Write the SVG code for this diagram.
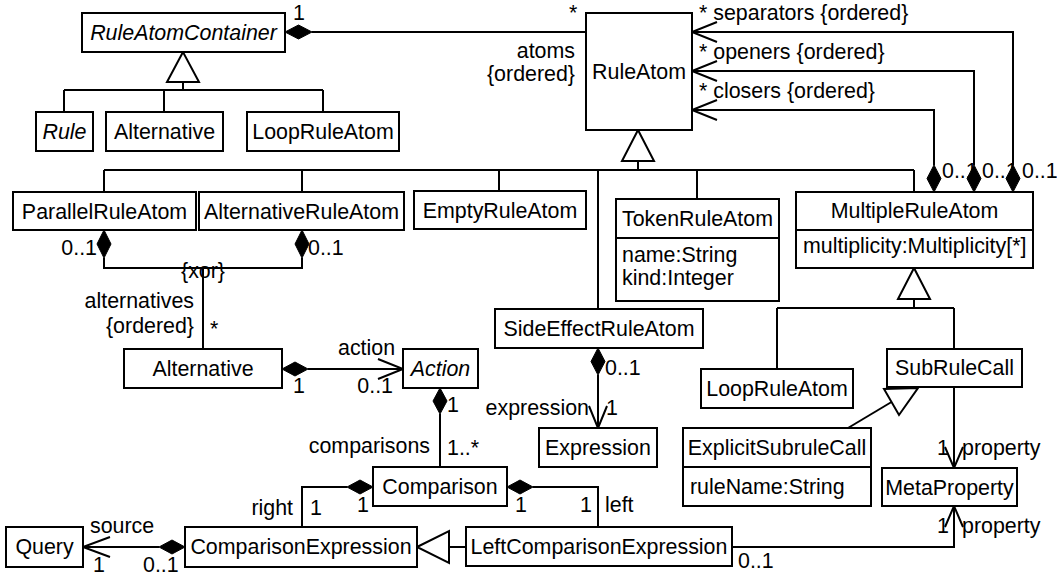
<svg xmlns="http://www.w3.org/2000/svg" width="1057" height="575" viewBox="0 0 1057 575">
<style>
.box{fill:#fff;stroke:#000;stroke-width:2}
.ln{fill:none;stroke:#000;stroke-width:2}
.dia{fill:#000;stroke:#000;stroke-width:1}
.tri{fill:#fff;stroke:#000;stroke-width:2}
text{font-family:"Liberation Sans",Arial,sans-serif;font-size:21.4px;fill:#000}
.c{text-anchor:middle}
.e{text-anchor:end}
.i{font-style:italic}
</style>
<rect width="1057" height="575" fill="#fff"/>
<g id="connectors">
  <!-- RuleAtomContainer atoms -->
  <path class="ln" d="M312,32 H586"/>
  <polygon class="dia" points="285,32 298.5,25 312,32 298.5,39"/>
  <text x="293" y="20">1</text>
  <text x="569" y="20">*</text>
  <text class="e" x="575" y="58">atoms</text>
  <text class="e" x="575" y="81">{ordered}</text>
  <!-- generalization to RuleAtomContainer -->
  <polygon class="tri" points="183,52 167,82 199,82"/>
  <path class="ln" d="M183,82 V90 M64,90 H323 M64,90 V112 M164,90 V112 M323,90 V112"/>
  <!-- generalization to RuleAtom -->
  <polygon class="tri" points="638,130 622,161 654,161"/>
  <path class="ln" d="M638,161 V170 M104,170 H914 M104,170 V192 M302,170 V192 M499,170 V191 M598,170 V309 M697,170 V199 M914,170 V192"/>
  <!-- MultipleRuleAtom -> RuleAtom -->
  <path class="ln" d="M934,165 V110 H692 M974,165 V71 H692 M1013,165 V32 H692"/>
  <path class="ln" d="M717,100 L692,110 L717,120 M717,61 L692,71 L717,81 M717,22 L692,32 L717,42"/>
  <text x="699" y="20">* separators {ordered}</text>
  <text x="699" y="59">* openers {ordered}</text>
  <text x="699" y="98">* closers {ordered}</text>
  <text x="942" y="178">0..1</text>
  <text x="982" y="178">0..1</text>
  <text x="1022" y="178">0..1</text>
  <polygon class="dia" points="934,192 927,178.5 934,165 941,178.5"/>
  <polygon class="dia" points="974,192 967,178.5 974,165 981,178.5"/>
  <polygon class="dia" points="1013,192 1006,178.5 1013,165 1020,178.5"/>
  <!-- alternatives xor -->
  <polygon class="dia" points="104,230 111,244 104,258 97,244"/>
  <polygon class="dia" points="302,230 309,244 302,258 295,244"/>
  <path class="ln" d="M104,258 V268 H302 V258 M203,268 V349"/>
  <text class="e" x="97" y="255">0..1</text>
  <text x="308" y="255">0..1</text>
  <text class="c" x="203" y="278">{xor}</text>
  <text class="e" x="194" y="308">alternatives</text>
  <text class="e" x="194" y="333">{ordered}</text>
  <text x="210" y="336">*</text>
  <!-- Alternative -> Action -->
  <polygon class="dia" points="282,369 295,362 308,369 295,376"/>
  <path class="ln" d="M308,369 H403 M378,359 L403,369 L378,379"/>
  <text x="338" y="355">action</text>
  <text x="293" y="393">1</text>
  <text class="e" x="393" y="393">0..1</text>
  <!-- Action -> Comparison -->
  <polygon class="dia" points="440,388 447,401 440,414 433,401"/>
  <path class="ln" d="M440,414 V467"/>
  <text x="447" y="412">1</text>
  <text class="e" x="430" y="453">comparisons</text>
  <text x="447" y="455">1..*</text>
  <!-- SideEffectRuleAtom -> Expression -->
  <polygon class="dia" points="598,348 605,361.5 598,375 591,361.5"/>
  <path class="ln" d="M598,375 V428 M589,406 L598,428 L607,406"/>
  <text x="605" y="375">0..1</text>
  <text class="e" x="589" y="415">expression</text>
  <text x="606" y="415">1</text>
  <!-- generalization to MultipleRuleAtom -->
  <polygon class="tri" points="914,268 898,299 930,299"/>
  <path class="ln" d="M914,299 V308 M777,308 H954 M777,308 V369 M954,308 V349"/>
  <!-- ExplicitSubruleCall -> SubRuleCall -->
  <path class="ln" d="M848,428 L891.5,402"/>
  <polygon class="tri" points="918,388 884,389 899,415"/>
  <!-- SubRuleCall -> MetaProperty -->
  <path class="ln" d="M954,387 V468 M945,447 L954,468 L963,447"/>
  <text x="937" y="455">1</text>
  <text x="962" y="455">property</text>
  <!-- LeftComparisonExpression -> MetaProperty -->
  <path class="ln" d="M732,547 H954 V506 M945,527 L954,506 L963,527"/>
  <text x="937" y="533">1</text>
  <text x="962" y="533">property</text>
  <text x="738" y="568">0..1</text>
  <!-- Comparison right -->
  <polygon class="dia" points="373,487 360,480 347,487 360,494"/>
  <path class="ln" d="M347,487 H302 V527"/>
  <text class="e" x="293" y="515">right</text>
  <text x="310" y="515">1</text>
  <text x="357" y="512">1</text>
  <!-- Comparison left -->
  <polygon class="dia" points="507,487 520,480 533,487 520,494"/>
  <path class="ln" d="M533,487 H598 V527"/>
  <text x="515" y="512">1</text>
  <text x="580" y="512">1</text>
  <text x="605" y="512">left</text>
  <!-- LeftComparisonExpression generalization -->
  <polygon class="tri" points="417,547 449,531 449,563"/>
  <path class="ln" d="M449,547 H466"/>
  <!-- ComparisonExpression -> Query -->
  <polygon class="dia" points="185,547 172,540 159,547 172,554"/>
  <path class="ln" d="M159,547 H83 M110,537 L83,547 L110,557"/>
  <text x="90" y="533">source</text>
  <text x="93" y="572">1</text>
  <text x="143" y="572">0..1</text>
</g>
<g id="RuleAtomContainer"><rect class="box" x="82" y="13" width="203" height="39"/><text class="c i" x="183.5" y="40">RuleAtomContainer</text></g>
<g id="Rule"><rect class="box" x="36" y="112" width="57" height="39"/><text class="c i" x="64.5" y="139">Rule</text></g>
<g id="Alternative1"><rect class="box" x="106" y="112" width="117" height="39"/><text class="c" x="164.5" y="139">Alternative</text></g>
<g id="LoopRuleAtom1"><rect class="box" x="247" y="112" width="152" height="39"/><text class="c" x="323" y="139">LoopRuleAtom</text></g>
<g id="RuleAtom"><rect class="box" x="586" y="13" width="106" height="117"/><text class="c" x="639" y="79">RuleAtom</text></g>
<g id="ParallelRuleAtom"><rect class="box" x="13" y="192" width="183" height="38"/><text class="c" x="104.5" y="219">ParallelRuleAtom</text></g>
<g id="AlternativeRuleAtom"><rect class="box" x="199" y="192" width="205" height="38"/><text class="c" x="301.5" y="219">AlternativeRuleAtom</text></g>
<g id="EmptyRuleAtom"><rect class="box" x="414" y="191" width="172" height="38"/><text class="c" x="500" y="218">EmptyRuleAtom</text></g>
<g id="TokenRuleAtom"><rect class="box" x="616" y="199" width="163" height="102"/><path class="ln" d="M616,238 H779"/><text class="c" x="697.5" y="226">TokenRuleAtom</text><text x="622" y="262">name:String</text><text x="622" y="285">kind:Integer</text></g>
<g id="MultipleRuleAtom"><rect class="box" x="796" y="192" width="237" height="76"/><path class="ln" d="M796,230 H1033"/><text class="c" x="914.5" y="218">MultipleRuleAtom</text><text x="803" y="253">multiplicity:Multiplicity[*]</text></g>
<g id="Alternative2"><rect class="box" x="124" y="349" width="158" height="39"/><text class="c" x="203" y="376">Alternative</text></g>
<g id="Action"><rect class="box" x="403" y="349" width="75" height="39"/><text class="c i" x="440.5" y="376">Action</text></g>
<g id="SideEffectRuleAtom"><rect class="box" x="495" y="309" width="208" height="39"/><text class="c" x="599" y="336">SideEffectRuleAtom</text></g>
<g id="Expression"><rect class="box" x="539" y="428" width="118" height="39"/><text class="c" x="598" y="455">Expression</text></g>
<g id="LoopRuleAtom2"><rect class="box" x="701" y="369" width="152" height="39"/><text class="c" x="777" y="396">LoopRuleAtom</text></g>
<g id="SubRuleCall"><rect class="box" x="887" y="349" width="135" height="38"/><text class="c" x="954.5" y="375">SubRuleCall</text></g>
<g id="ExplicitSubruleCall"><rect class="box" x="683" y="428" width="188" height="78"/><path class="ln" d="M683,467 H871"/><text class="c" x="777" y="455">ExplicitSubruleCall</text><text x="690" y="494">ruleName:String</text></g>
<g id="MetaProperty"><rect class="box" x="882" y="468" width="135" height="38"/><text class="c" x="949.5" y="495">MetaProperty</text></g>
<g id="Comparison"><rect class="box" x="373" y="467" width="134" height="39"/><text class="c" x="440" y="494">Comparison</text></g>
<g id="Query"><rect class="box" x="6" y="527" width="77" height="40"/><text class="c" x="44.5" y="554">Query</text></g>
<g id="ComparisonExpression"><rect class="box" x="185" y="527" width="232" height="40"/><text class="c" x="301" y="554">ComparisonExpression</text></g>
<g id="LeftComparisonExpression"><rect class="box" x="466" y="527" width="266" height="39"/><text class="c" x="599" y="554">LeftComparisonExpression</text></g>
</svg>
